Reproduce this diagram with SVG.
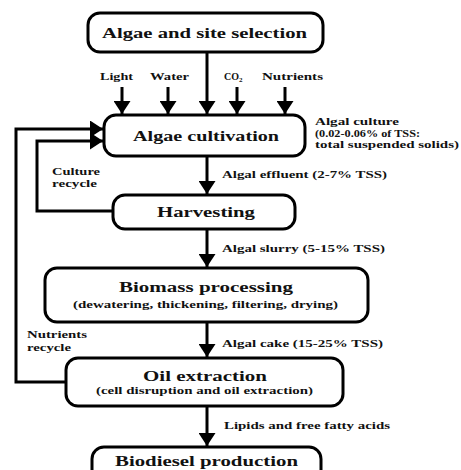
<svg xmlns="http://www.w3.org/2000/svg" width="461" height="470" viewBox="0 0 461 470">
<style>
.box{fill:#fff;stroke:#000;stroke-width:3}
.ln{fill:none;stroke:#000;stroke-width:3}
text{font-family:"Liberation Serif","Times New Roman",serif;font-weight:bold;fill:#111}
.t1{font-size:15px}
.t2{font-size:10px}
.lb{font-size:10px}
</style>
<defs>
<marker id="ah" viewBox="0 0 13 17" refX="13" refY="8.5" markerWidth="13" markerHeight="17" markerUnits="userSpaceOnUse" orient="auto">
<path d="M0,0 L13,8.5 L0,17 z" fill="#000"/>
</marker>
</defs>
<rect width="461" height="470" fill="#fff"/>
<g id="connectors">
<path class="ln" d="M207,52 V114" marker-end="url(#ah)"/>
<path class="ln" d="M122,87 V114" marker-end="url(#ah)"/>
<path class="ln" d="M168,87 V114" marker-end="url(#ah)"/>
<path class="ln" d="M237,87 V114" marker-end="url(#ah)"/>
<path class="ln" d="M285,87 V114" marker-end="url(#ah)"/>
<path class="ln" d="M207,156 V194" marker-end="url(#ah)"/>
<path class="ln" d="M207,229 V267" marker-end="url(#ah)"/>
<path class="ln" d="M207,322 V357" marker-end="url(#ah)"/>
<path class="ln" d="M207,406 V446" marker-end="url(#ah)"/>
<path class="ln" d="M113,211 H37 V141 H103" marker-end="url(#ah)"/>
<path class="ln" d="M66,382 H16 V129 H103" marker-end="url(#ah)"/>
<text class="lb" x="100" y="80" textLength="33" lengthAdjust="spacingAndGlyphs">Light</text>
<text class="lb" x="150" y="80" textLength="39" lengthAdjust="spacingAndGlyphs">Water</text>
<text class="lb" x="224" y="80">CO<tspan font-size="7" dy="2">2</tspan></text>
<text class="lb" x="262" y="80" textLength="61" lengthAdjust="spacingAndGlyphs">Nutrients</text>
<text class="lb" x="315" y="125" textLength="84" lengthAdjust="spacingAndGlyphs">Algal culture</text>
<text class="lb" x="315" y="137" textLength="105" lengthAdjust="spacingAndGlyphs">(0.02-0.06% of TSS:</text>
<text class="lb" x="315" y="148" textLength="144" lengthAdjust="spacingAndGlyphs">total suspended solids)</text>
<text class="lb" x="52" y="175" textLength="48" lengthAdjust="spacingAndGlyphs">Culture</text>
<text class="lb" x="52" y="187" textLength="45" lengthAdjust="spacingAndGlyphs">recycle</text>
<text class="lb" x="222" y="178" textLength="165" lengthAdjust="spacingAndGlyphs">Algal effluent (2-7% TSS)</text>
<text class="lb" x="222" y="252" textLength="163" lengthAdjust="spacingAndGlyphs">Algal slurry (5-15% TSS)</text>
<text class="lb" x="27" y="338" textLength="60" lengthAdjust="spacingAndGlyphs">Nutrients</text>
<text class="lb" x="27" y="351" textLength="44" lengthAdjust="spacingAndGlyphs">recycle</text>
<text class="lb" x="222" y="347" textLength="161" lengthAdjust="spacingAndGlyphs">Algal cake (15-25% TSS)</text>
<text class="lb" x="224" y="429" textLength="166" lengthAdjust="spacingAndGlyphs">Lipids and free fatty acids</text>
</g>
<g id="selection">
<rect class="box" x="88" y="13" width="235" height="39" rx="12"/>
<text class="t1" x="102" y="38" textLength="205" lengthAdjust="spacingAndGlyphs">Algae and site selection</text>
</g>
<g id="cultivation">
<rect class="box" x="104" y="115" width="201" height="41" rx="12"/>
<text class="t1" x="133" y="141" textLength="146" lengthAdjust="spacingAndGlyphs">Algae cultivation</text>
</g>
<g id="harvesting">
<rect class="box" x="113" y="195" width="182" height="34" rx="12"/>
<text class="t1" x="157" y="217" textLength="98" lengthAdjust="spacingAndGlyphs">Harvesting</text>
</g>
<g id="biomass">
<rect class="box" x="45" y="268" width="323" height="54" rx="12"/>
<text class="t1" x="119" y="292" textLength="174" lengthAdjust="spacingAndGlyphs">Biomass processing</text>
<text class="t2" x="73" y="308" textLength="265" lengthAdjust="spacingAndGlyphs">(dewatering, thickening, filtering, drying)</text>
</g>
<g id="oil">
<rect class="box" x="66" y="358" width="277" height="48" rx="12"/>
<text class="t1" x="143" y="381" textLength="124" lengthAdjust="spacingAndGlyphs">Oil extraction</text>
<text class="t2" x="96" y="394" textLength="217" lengthAdjust="spacingAndGlyphs">(cell disruption and oil extraction)</text>
</g>
<g id="biodiesel">
<rect class="box" x="92" y="447" width="229" height="36" rx="12"/>
<text class="t1" x="115" y="466" textLength="183" lengthAdjust="spacingAndGlyphs">Biodiesel production</text>
</g>
</svg>
